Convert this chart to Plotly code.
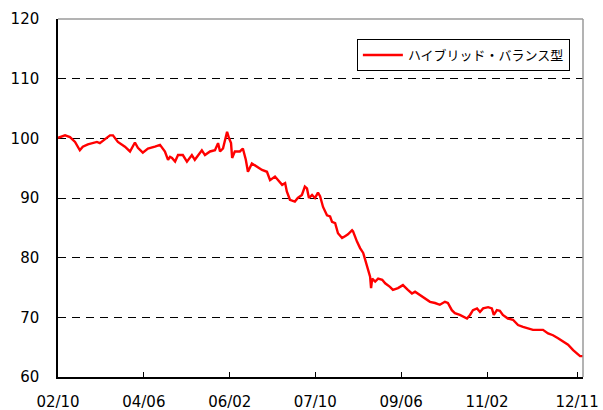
import plotly.graph_objects as go

dates = [
    "2002-10-01", "2002-11-20", "2002-12-25", "2003-01-30", "2003-03-05", "2003-03-26",
    "2003-05-01", "2003-06-06", "2003-07-04", "2003-07-25", "2003-08-30", "2003-10-05",
    "2003-10-26", "2003-11-30", "2004-01-19", "2004-02-24", "2004-03-30", "2004-04-20",
    "2004-05-25", "2004-06-30", "2004-08-19", "2004-09-24", "2004-10-29", "2004-11-20",
    "2004-12-04", "2004-12-18", "2005-01-09", "2005-01-30", "2005-03-05", "2005-04-03",
    "2005-05-08", "2005-05-29", "2005-07-18", "2005-08-09", "2005-09-14", "2005-10-19",
    "2005-11-10", "2005-11-24", "2005-12-15", "2005-12-29", "2006-01-13", "2006-01-27",
    "2006-02-10", "2006-02-18", "2006-03-09", "2006-04-14", "2006-05-05", "2006-05-26",
    "2006-06-10", "2006-07-08", "2006-08-13", "2006-09-18", "2006-10-23", "2006-11-14",
    "2006-12-19", "2007-01-10", "2007-02-08", "2007-03-01", "2007-03-13", "2007-04-04",
    "2007-05-09", "2007-05-30", "2007-06-28", "2007-07-19", "2007-08-03", "2007-08-17",
    "2007-09-08", "2007-09-29", "2007-10-20", "2007-11-04", "2007-11-25", "2007-12-23",
    "2008-01-14", "2008-01-28", "2008-02-19", "2008-03-10", "2008-04-08", "2008-04-29",
    "2008-05-20", "2008-06-18", "2008-06-25", "2008-07-23", "2008-08-14", "2008-09-05",
    "2008-09-19", "2008-10-10", "2008-10-24", "2008-10-31", "2008-11-08", "2008-11-29",
    "2008-12-20", "2009-01-18", "2009-02-08", "2009-03-14", "2009-04-04", "2009-05-10",
    "2009-06-14", "2009-07-19", "2009-08-17", "2009-09-08", "2009-10-13", "2009-11-18",
    "2009-12-23", "2010-01-28", "2010-03-03", "2010-04-08", "2010-04-29", "2010-05-27",
    "2010-06-18", "2010-07-23", "2010-08-14", "2010-09-12", "2010-10-03", "2010-10-24",
    "2010-11-22", "2010-12-13", "2011-01-04", "2011-02-09", "2011-03-07", "2011-03-21",
    "2011-04-12", "2011-05-03", "2011-05-24", "2011-06-29", "2011-08-04", "2011-09-09",
    "2011-10-14", "2011-11-19", "2011-12-24", "2012-01-29", "2012-03-04", "2012-04-09",
    "2012-05-14", "2012-06-19", "2012-07-24", "2012-08-29", "2012-10-04", "2012-11-01",
    "2012-11-22", "2012-12-13",
]

values = [
    100.1, 100.5, 100.2, 99.4, 98.0, 98.6,
    99.0, 99.3, 99.4, 99.2, 99.9, 100.5,
    100.5, 99.4, 98.6, 97.8, 99.3, 98.4,
    97.6, 98.3, 98.6, 98.9, 97.8, 96.4,
    96.9, 96.7, 96.1, 97.2, 97.2, 96.1,
    97.2, 96.4, 98.0, 97.2, 97.8, 98.0,
    99.2, 97.8, 98.3, 99.7, 101.1, 100.0,
    99.2, 96.7, 97.8, 97.8, 98.3, 96.4,
    94.4, 95.8, 95.2, 94.7, 94.4, 93.0,
    93.6, 93.0, 92.2, 92.5, 91.1, 89.7,
    89.4, 90.0, 90.5, 91.9, 91.6, 90.0,
    90.5, 90.0, 90.9, 90.3, 88.5, 87.1,
    86.9, 86.0, 85.8, 84.1, 83.3, 83.6,
    83.9, 84.6, 84.4, 82.7, 81.6, 80.8,
    79.6, 78.0, 76.8, 74.9, 76.5, 76.0,
    76.5, 76.3, 75.7, 75.1, 74.6, 74.9,
    75.4, 74.6, 74.0, 74.3, 73.7, 73.2,
    72.6, 72.4, 72.1, 72.6, 72.4, 71.2,
    70.7, 70.4, 70.1, 69.8, 70.4, 71.2,
    71.5, 70.9, 71.5, 71.7, 71.5, 70.4,
    71.2, 71.1, 70.4, 69.8, 69.6, 68.7,
    68.4, 68.2, 67.9, 67.9, 67.9, 67.3,
    67.0, 66.5, 65.9, 65.4, 64.5, 64.0,
    63.5, 63.5,
]

series_name = "ハイブリッド・バランス型"

x_tick_dates = ["2002-10-01", "2004-06-01", "2006-02-01", "2007-10-01",
                "2009-06-01", "2011-02-01", "2012-11-01"]
x_tick_labels = ["02/10", "04/06", "06/02", "07/10", "09/06", "11/02", "12/11"]
y_ticks = [60, 70, 80, 90, 100, 110, 120]

fig = go.Figure()
fig.add_trace(go.Scatter(
    x=dates, y=values, mode="lines", name=series_name,
    line=dict(color="#ff0000", width=2.4),
    showlegend=True,
))

fig.update_layout(
    width=603, height=410,
    margin=dict(l=58, r=20, t=19, b=33, autoexpand=False),
    paper_bgcolor="white", plot_bgcolor="white",
    font=dict(family="DejaVu Sans", size=15, color="black"),
    showlegend=True,
    legend=dict(
        x=0.975, y=0.944, xanchor="right", yanchor="top",
        bordercolor="black", borderwidth=1, bgcolor="white",
        font=dict(family="Noto Sans CJK JP", size=13, color="black"),
        tracegroupgap=0, itemwidth=40,
    ),
    xaxis=dict(
        type="date",
        range=["2002-10-01", "2012-12-13"],
        tickvals=x_tick_dates, ticktext=x_tick_labels,
        ticks="inside", ticklen=5, tickcolor="black", tickwidth=1,
        showgrid=False, zeroline=False,
        showline=True, linecolor="black", linewidth=1.5,
        ticklabelstandoff=10, automargin=False,
    ),
    yaxis=dict(
        range=[60, 120], tickvals=y_ticks,
        showgrid=True, gridcolor="black", gridwidth=1, griddash="8px,6px",
        zeroline=False, ticks="",
        showline=True, linecolor="black", linewidth=1.5,
        ticklabelstandoff=14, automargin=False,
    ),
)

# gray top and right frame edges
fig.add_shape(type="line", xref="paper", yref="paper", x0=0, x1=1, y0=1, y1=1,
              line=dict(color="#9a9a9a", width=1.5), layer="above")
fig.add_shape(type="line", xref="paper", yref="paper", x0=1, x1=1, y0=0, y1=1,
              line=dict(color="#9a9a9a", width=1.5), layer="above")

fig.write_html("out.html", config={"displayModeBar": False},
               post_script="document.body.style.margin='0px';")
